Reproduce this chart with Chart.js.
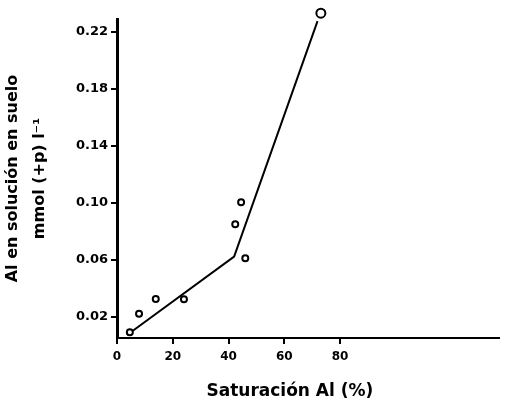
<!DOCTYPE html>
<html>
<head>
<meta charset="utf-8">
<script src="https://cdn.jsdelivr.net/npm/chart.js@4/dist/chart.umd.min.js"></script>
<style>
    html, body { margin: 0; padding: 0; background: #fff; }
</style>
</head>
<body>
<canvas id="chart" width="505" height="410"></canvas>
<script>
// Saturación Al vs Al en solución
const satX = [4.6, 7.9, 13.9, 24.0, 42.4, 44.5, 46.0, 73.1];
const alY = [0.0093, 0.0223, 0.0326, 0.0324, 0.085, 0.1004, 0.0612, 0.233];
const sizes = [3, 3, 3, 3, 3, 3, 3, 4.5];
const fitX = [3.6, 42.0, 71.9];
const fitY = [0.0074, 0.0624, 0.2274];
const xTicks = [0, 20, 40, 60, 80];
const yTicks = [0.02, 0.06, 0.10, 0.14, 0.18, 0.22];
const xTitle = 'Saturación Al (%)';

const fam = '"DejaVu Sans", sans-serif';

// x title sits a bit left of the plot centre in the original, so draw it here
const xTitlePlugin = {
    id: 'xTitle',
    afterDraw(chart) {
        const ctx = chart.ctx;
        const xs = chart.scales.x;
        ctx.save();
        ctx.font = 'bold 17px ' + fam;
        ctx.fillStyle = '#000';
        ctx.textAlign = 'center';
        ctx.textBaseline = 'middle';
        ctx.fillText(xTitle, xs.getPixelForValue(62), 392);
        ctx.restore();
    }
};

new Chart(document.getElementById('chart'), {
    type: 'scatter',
    data: {
        datasets: [
            {
                label: 'medido',
                data: satX.map((x, i) => ({ x: x, y: alY[i] })),
                pointStyle: 'circle',
                pointRadius: sizes,
                pointBorderWidth: 2,
                pointBorderColor: '#000',
                pointBackgroundColor: '#fff',
                showLine: false,
                clip: false,
                order: 1
            },
            {
                label: 'ajuste',
                data: fitX.map((x, i) => ({ x: x, y: fitY[i] })),
                showLine: true,
                borderColor: '#000',
                borderWidth: 2,
                pointRadius: 0,
                fill: false,
                clip: false,
                order: 2
            }
        ]
    },
    options: {
        responsive: false,
        animation: false,
        events: [],
        layout: { padding: { top: 19, right: 5, left: 0, bottom: 0 } },
        plugins: { legend: { display: false }, tooltip: { enabled: false } },
        scales: {
            x: {
                type: 'linear',
                min: 0,
                max: 136.8,
                afterBuildTicks: a => { a.ticks = xTicks.map(v => ({ value: v })); },
                afterFit: a => { a.height = 72; },
                border: { display: true, color: '#000', width: 2 },
                grid: { drawOnChartArea: false, drawTicks: true, tickLength: 6, color: '#000', lineWidth: 2 },
                ticks: { color: '#000', padding: 6, font: { family: fam, size: 12, weight: 'bold' }, maxRotation: 0 },
                title: { display: false }
            },
            y: {
                type: 'linear',
                min: 0.0053,
                max: 0.2289,
                afterBuildTicks: a => { a.ticks = yTicks.map(v => ({ value: v })); },
                afterFit: a => { a.width = 117; },
                border: { display: true, color: '#000', width: 3 },
                grid: { drawOnChartArea: false, drawTicks: true, tickLength: 6, color: '#000', lineWidth: 2 },
                ticks: {
                    color: '#000', padding: 3,
                    font: { family: fam, size: 13, weight: 'bold' },
                    callback: v => v.toFixed(2)
                },
                title: {
                    display: true,
                    text: ['Al en solución en suelo', 'mmol (+p) l⁻¹'],
                    color: '#000',
                    font: { family: fam, size: 16, weight: 'bold', lineHeight: 1.65 },
                    padding: { top: 0, bottom: 0 }
                }
            }
        }
    },
    plugins: [xTitlePlugin]
});
</script>
</body>
</html>
